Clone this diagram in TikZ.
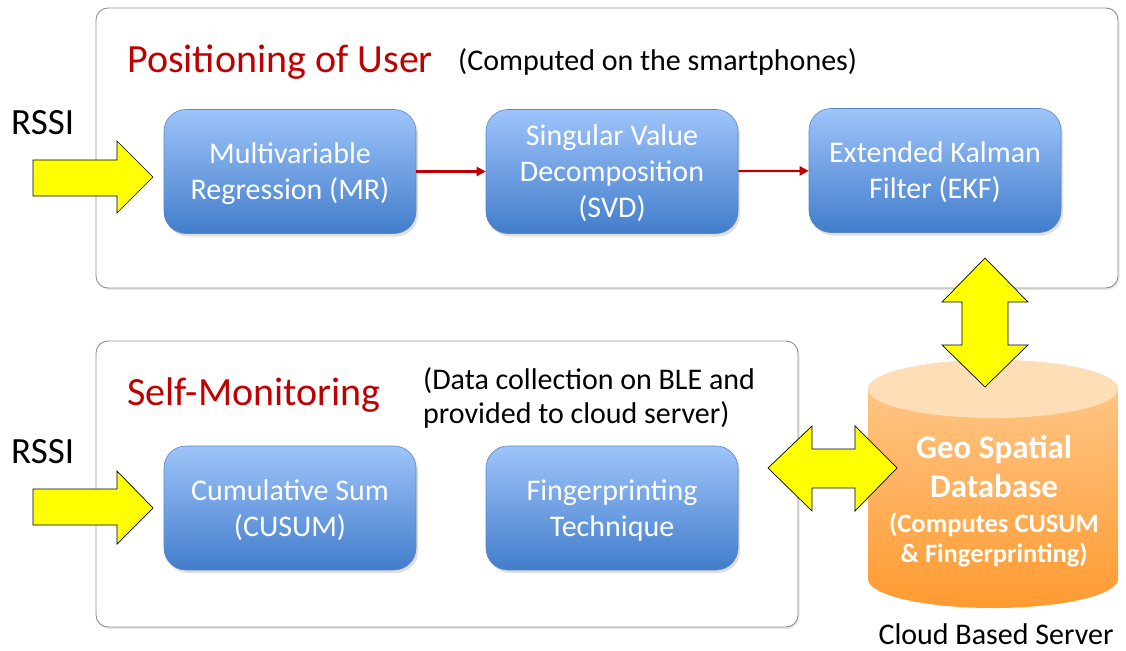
\documentclass[tikz,border=0pt]{standalone}
\usepackage{fontspec}
\setmainfont{Carlito}
\usetikzlibrary{shadows,arrows.meta}

\definecolor{titlered}{HTML}{C00000}
\definecolor{boxtop}{HTML}{9EC4FA}
\definecolor{boxbot}{HTML}{427DCB}
\definecolor{boxline}{HTML}{5A86C4}
\definecolor{frameline}{HTML}{8E8E8E}
\definecolor{cyltop}{HTML}{FFCB90}
\definecolor{cylbot}{HTML}{FF9A30}
\definecolor{cyllid}{HTML}{FDDEB6}
\definecolor{blockyellow}{HTML}{FFFF00}
\definecolor{linkred}{HTML}{C00000}

\tikzset{
  frame/.style={draw=frameline, line width=0.9pt, rounded corners=12pt, fill=white,
    drop shadow={opacity=0.18, shadow xshift=1.5pt, shadow yshift=-2pt}},
  procbox/.style={draw=boxline, line width=0.6pt, rounded corners=22pt,
    top color=boxtop, bottom color=boxbot,
    minimum width=252pt, minimum height=124pt, inner sep=0pt,
    text=white, align=center, font=\fontsize{30}{36}\selectfont,
    % ignoring the last line's descenders sets the text a little lower
    text depth=-5pt,
    drop shadow={opacity=0.25, shadow xshift=2pt, shadow yshift=-3pt}},
  heading/.style={anchor=base west, text=titlered, inner sep=0pt,
    font=\fontsize{40}{44}\selectfont},
  note/.style={anchor=base west, inner sep=0pt, align=left,
    font=\fontsize{30}{34}\selectfont},
  rssi/.style={anchor=base west, inner sep=0pt, font=\fontsize{37}{40}\selectfont},
  dbtext/.style={anchor=base, text=white, align=center, inner sep=0pt},
  blockarrow/.style={fill=blockyellow, draw=black, line width=0.7pt, line join=miter},
  link/.style={draw=linkred, line width=2.2pt, -{Triangle[length=9pt,width=9pt]}},
}

\begin{document}
\begin{tikzpicture}[x=1pt,y=-1pt]
  \useasboundingbox (0,0) rectangle (1126,650);

  % group frames
  \path[frame] (96,8) rectangle (1118,288);
  \path[frame] (96,341) rectangle (798,627);

  % headings and notes
  \node[heading] (posTitle) at (127,73) {Positioning of User};
  \node[note] (posNote) at (458,71) {(Computed on the smartphones)};
  \node[heading] (monTitle) at (127,405) {Self-Monitoring};
  \node[note] (monNote) at (423,423) {(Data collection on BLE and\\provided to cloud server)};

  % RSSI inputs
  \node[rssi] (rssiA) at (11,134) {RSSI};
  \node[rssi] (rssiB) at (11,463) {RSSI};
  \draw[blockarrow] (33,160) -- (117,160) -- (117,141) -- (153,177) -- (117,213)
    -- (117,196) -- (33,196) -- cycle;
  \draw[blockarrow] (33,489) -- (117,489) -- (117,471) -- (153,508) -- (117,544)
    -- (117,525) -- (33,525) -- cycle;

  % processing steps
  \node[procbox] (mr)  at (290,171.5) {Multivariable\\Regression (MR)};
  \node[procbox] (svd) at (612,171.5) {Singular Value\\Decomposition\\(SVD)};
  \node[procbox] (ekf) at (935,170.5) {Extended Kalman\\Filter (EKF)};
  \node[procbox] (cusum) at (290,508) {Cumulative Sum\\(CUSUM)};
  \node[procbox] (fp)    at (612,508) {Fingerprinting\\Technique};

  \draw[link] (mr) -- (svd);
  \draw[link] (svd) -- (ekf);

  % cloud database cylinder
  \shade[top color=cyltop, bottom color=cylbot]
    (868,389) -- (868,579) arc[start angle=180, end angle=360, x radius=125pt, y radius=29pt]
    -- (1118,389) arc[start angle=0, end angle=180, x radius=125pt, y radius=29pt] -- cycle;
  \fill[cyllid] (993,389) ellipse[x radius=125pt, y radius=29pt];
  \node[dbtext, font=\bfseries\fontsize{33}{39}\selectfont]
    (db) at (994,497) {Geo Spatial\\Database};
  \node[dbtext, font=\bfseries\fontsize{26.5}{30}\selectfont]
    (dbNote) at (994,562) {(Computes CUSUM\\\& Fingerprinting)};
  \node[anchor=base, inner sep=0pt, font=\fontsize{30}{30}\selectfont]
    (server) at (996,644) {Cloud Based Server};

  % data exchange with the server
  \draw[blockarrow] (985,258) -- (1028,302) -- (1008,302) -- (1008,345) -- (1028,345)
    -- (985,387) -- (942,345) -- (962,345) -- (962,302) -- (942,302) -- cycle;
  \draw[blockarrow] (768,468) -- (812,426) -- (812,449) -- (855,449) -- (855,426)
    -- (897,468) -- (855,511) -- (855,488) -- (812,488) -- (812,511) -- cycle;
\end{tikzpicture}
\end{document}
